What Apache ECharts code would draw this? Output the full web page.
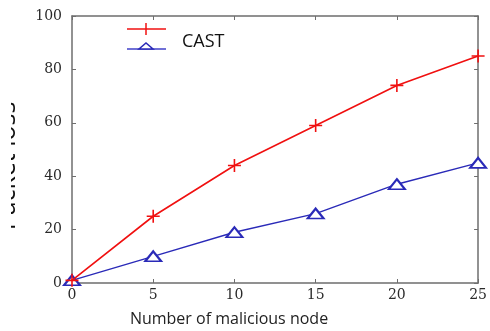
<!DOCTYPE html>
<html>
<head>
<meta charset="utf-8">
<script src="https://cdn.jsdelivr.net/npm/echarts@6/dist/echarts.min.js"></script>
<style>
  html, body { margin: 0; padding: 0; background: #fff; }
  #chart { width: 490px; height: 331px; }
</style>
</head>
<body>
<div id="chart"></div>
<script>
// Number of malicious nodes on the x axis
const nodes = [0, 5, 10, 15, 20, 25];
// Packet loss per scheme
const redLoss = [1, 25, 44, 59, 74, 85];
const castLoss = [1, 10, 19, 26, 37, 45];
// Axis tick settings
const xTicks = { min: 0, max: 25, interval: 5 };
const yTicks = { min: 0, max: 100, interval: 20 };

const axisColor = '#6e6e6e';
const plusPath = 'path://M5,0L5,10M0,5L10,5';

const chart = echarts.init(document.getElementById('chart'), null, { renderer: 'canvas' });

function pairs(xs, ys) { return xs.map((x, i) => [x, ys[i]]); }

const tickLabel = { fontFamily: 'DejaVu Serif', fontSize: 14, color: '#2a2a2a' };
const boxLine = { show: true, onZero: false, lineStyle: { color: axisColor, width: 1.5 } };
const boxTick = { show: true, inside: true, length: 4, lineStyle: { color: axisColor } };

chart.setOption({
  animation: false,
  grid: { left: 72, right: 8, top: 16, bottom: 48 },
  xAxis: [
    {
      type: 'value', min: xTicks.min, max: xTicks.max, interval: xTicks.interval,
      axisLine: boxLine, axisTick: boxTick,
      axisLabel: Object.assign({ margin: 5 }, tickLabel),
      splitLine: { show: false }
    },
    {
      type: 'value', position: 'top', min: xTicks.min, max: xTicks.max, interval: xTicks.interval,
      axisLine: boxLine, axisTick: boxTick,
      axisLabel: { show: false }, splitLine: { show: false }
    }
  ],
  yAxis: [
    {
      type: 'value', min: yTicks.min, max: yTicks.max, interval: yTicks.interval,
      axisLine: boxLine, axisTick: boxTick,
      axisLabel: Object.assign({ margin: 10 }, tickLabel),
      splitLine: { show: false }
    },
    {
      type: 'value', position: 'right', min: yTicks.min, max: yTicks.max, interval: yTicks.interval,
      axisLine: boxLine, axisTick: boxTick,
      axisLabel: { show: false }, splitLine: { show: false }
    }
  ],
  series: [
    {
      type: 'line', data: pairs(nodes, redLoss),
      lineStyle: { color: '#f01010', width: 1.6 },
      symbol: plusPath, symbolSize: 13,
      itemStyle: { color: 'none', borderColor: '#f01010', borderWidth: 1.6 },
      z: 3
    },
    {
      type: 'line', data: pairs(nodes, castLoss),
      lineStyle: { color: '#2a2ab8', width: 1.4 },
      symbol: 'emptyTriangle', symbolSize: [16, 10],
      itemStyle: { color: '#2a2ab8', borderColor: '#2a2ab8', borderWidth: 1.5 },
      z: 2
    }
  ],
  graphic: [
    // x-axis title
    {
      type: 'text', x: 229, y: 319, z: 5,
      style: { text: 'Number of malicious node', fontFamily: 'Open Sans', fontSize: 16, fill: '#222',
               align: 'center', verticalAlign: 'middle' }
    },
    // y-axis title, partly cut at the left edge
    {
      type: 'text', x: 20, y: 166, rotation: Math.PI / 2, z: 5,
      style: { text: 'Packet loss', fontFamily: 'Open Sans', fontSize: 25, fill: '#111',
               align: 'center', verticalAlign: 'bottom' }
    },
    { type: 'rect', shape: { x: 0, y: 80, width: 11, height: 170 }, style: { fill: '#fff' }, z: 6 },
    // legend
    { type: 'line', shape: { x1: 127, y1: 29, x2: 166, y2: 29 }, style: { stroke: '#f01010', lineWidth: 1.5 }, z: 5 },
    { type: 'line', shape: { x1: 146, y1: 23, x2: 146, y2: 35 }, style: { stroke: '#f01010', lineWidth: 1.5 }, z: 5 },
    { type: 'line', shape: { x1: 127, y1: 49, x2: 166, y2: 49 }, style: { stroke: '#4040c8', lineWidth: 1.5 }, z: 5 },
    { type: 'polygon', shape: { points: [[139, 49], [153, 49], [146, 43]] }, style: { fill: '#fff', stroke: '#2a2ab8', lineWidth: 1.5 }, z: 5 },
    {
      type: 'text', x: 182, y: 42, z: 5,
      style: { text: 'CAST', fontFamily: 'Open Sans', fontSize: 18, fill: '#111', verticalAlign: 'middle' }
    }
  ]
});
</script>
</body>
</html>
